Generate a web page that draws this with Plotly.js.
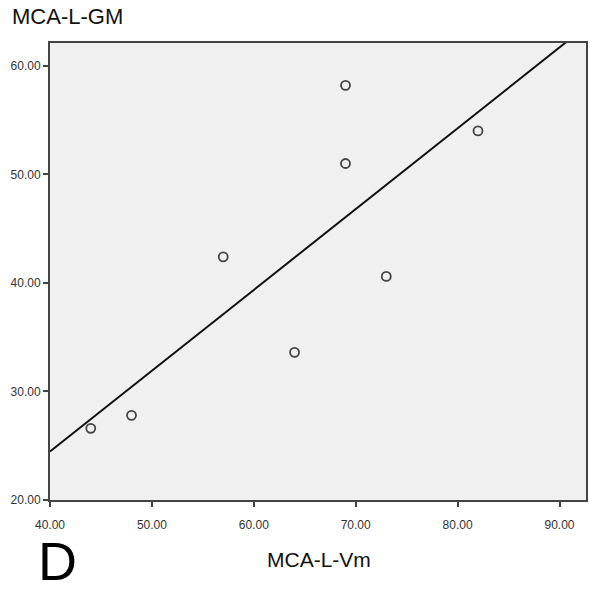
<!DOCTYPE html>
<html>
<head>
<meta charset="utf-8">
<script src="https://cdn.plot.ly/plotly-3.0.1.min.js"></script>
<style>html,body{margin:0;padding:0;background:#fff;}#chart{width:590px;height:593px;}</style>
</head>
<body>
<div id="chart"></div>
<script>
const vm = [44, 48, 57, 64, 69, 69, 73, 82];
const gm = [26.6, 27.8, 42.4, 33.6, 58.2, 51.0, 40.6, 54.0];
const xTicks = [40, 50, 60, 70, 80, 90];
const yTicks = [20, 30, 40, 50, 60];
const xRange = [40, 92.6];
const yRange = [20, 62.1];

// least-squares fit line
const n = vm.length;
const mx = vm.reduce((a, b) => a + b, 0) / n;
const my = gm.reduce((a, b) => a + b, 0) / n;
let sxy = 0, sxx = 0;
for (let i = 0; i < n; i++) { sxy += (vm[i] - mx) * (gm[i] - my); sxx += (vm[i] - mx) ** 2; }
const slope = sxy / sxx, icpt = my - slope * mx;
const fitX = [xRange[0], xRange[1]];
const fitY = fitX.map(x => icpt + slope * x);

const tickFont = {family: 'Liberation Sans Narrow, Liberation Sans, Arial', size: 12, color: '#333'};
const data = [
  {x: fitX, y: fitY, mode: 'lines', line: {color: '#111', width: 2}, hoverinfo: 'skip'},
  {x: vm, y: gm, mode: 'markers', marker: {symbol: 'circle-open', size: 9, color: '#444', line: {width: 1.8, color: '#444'}}}
];
const layout = {
  width: 590, height: 593,
  margin: {l: 49.5, r: 4, t: 43, b: 93},
  paper_bgcolor: '#fff', plot_bgcolor: '#f0f0f0',
  showlegend: false,
  title: {text: 'MCA-L-GM', x: 12/590, xanchor: 'left', xref: 'container', yref: 'container', y: 1 - 16.5/593, yanchor: 'middle',
          font: {family: 'Liberation Sans, Arial', size: 22, color: '#111'}},
  xaxis: {range: xRange, tickvals: xTicks, ticktext: xTicks.map(v => v.toFixed(2)), showgrid: false, zeroline: false,
          showline: true, mirror: true, linecolor: '#444', linewidth: 2, ticks: 'outside', ticklen: 5, tickwidth: 2, tickcolor: '#444',
          ticklabelstandoff: 8, tickfont: tickFont},
  yaxis: {range: yRange, tickvals: yTicks, ticktext: yTicks.map(v => v.toFixed(2)), showgrid: false, zeroline: false,
          showline: true, mirror: true, linecolor: '#444', linewidth: 2, ticks: 'outside', ticklen: 5, tickwidth: 2, tickcolor: '#444',
          tickfont: tickFont},
  annotations: [
    {text: 'MCA-L-Vm', xref: 'paper', yref: 'paper', x: (318.5 - 49.5) / 536.5, y: (500 - 559) / 457, xanchor: 'center', yanchor: 'middle', showarrow: false,
     font: {family: 'Liberation Sans, Arial', size: 21, color: '#111'}},
    {text: 'D', xref: 'paper', yref: 'paper', x: (57.5 - 49.5) / 536.5, y: (500 - 561) / 457, xanchor: 'center', yanchor: 'middle', showarrow: false,
     font: {family: 'Liberation Sans, Arial', size: 54, color: '#000'}}
  ]
};
Plotly.newPlot('chart', data, layout, {displayModeBar: false, staticPlot: true});
</script>
</body>
</html>
